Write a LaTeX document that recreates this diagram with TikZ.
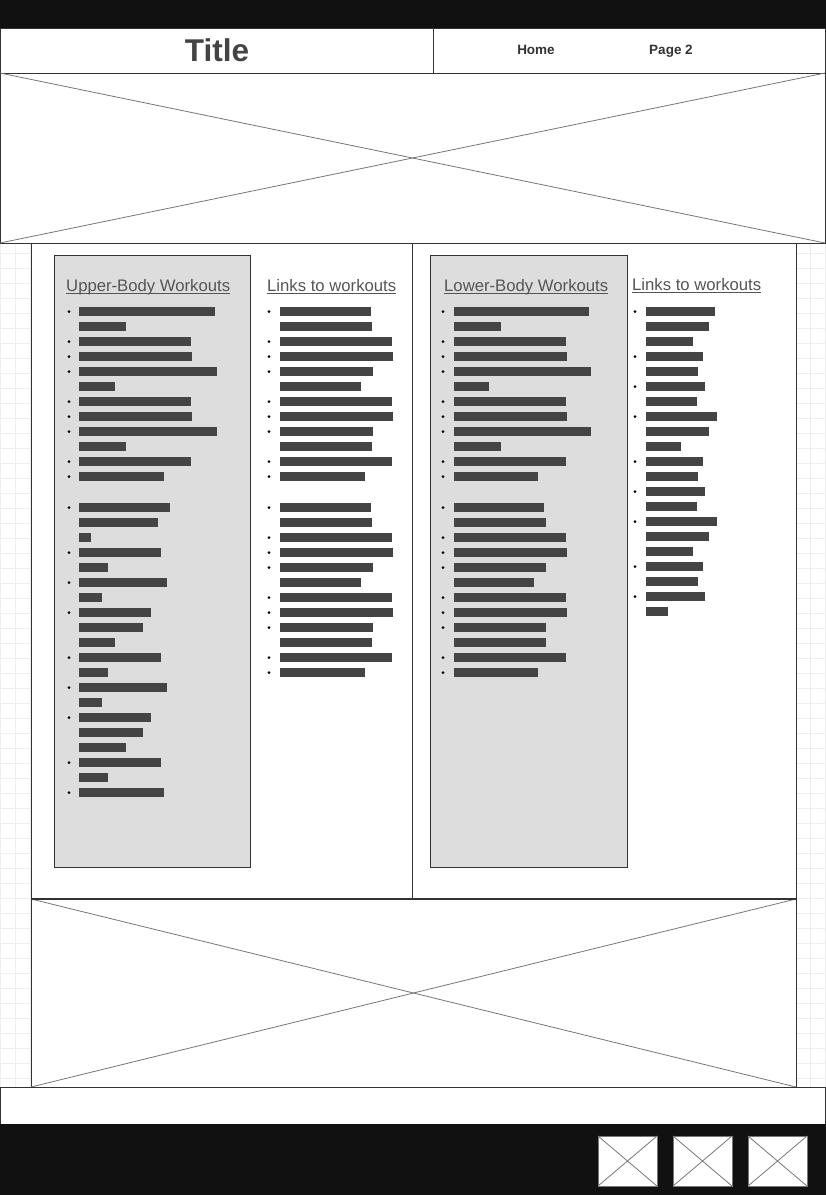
\documentclass[tikz,border=0pt]{standalone}
\usepackage{fontspec}
\setmainfont{Liberation Sans}
\definecolor{ink}{HTML}{111111}
\definecolor{barc}{HTML}{444444}
\definecolor{panel}{HTML}{DDDDDD}
\definecolor{edge}{HTML}{333333}
\definecolor{xline}{HTML}{777777}
\definecolor{gridc}{HTML}{EEEEEE}
\definecolor{headc}{HTML}{555555}
\newcommand\wfList[4]{%
  \foreach \b/\e [count=\i from 0] in {#4}{%
    \pgfmathsetmacro\yy{#3+15*\i}%
    \fill[bar] (#2,\yy-4.5) rectangle (\e,\yy+4.5);
    \ifnum\b=1 \fill[dot] (#1,\yy) circle (1.5);\fi
  }}
\begin{document}
\begin{tikzpicture}[x=1pt,y=-1pt,
  box/.style={draw=edge,fill=white,line width=1pt},
  pnl/.style={draw=edge,fill=panel,line width=1pt},
  xl/.style={draw=xline,line width=0.8pt},
  bar/.style={fill=barc},
  dot/.style={fill=black},
  gl/.style={draw=gridc,line width=0.6pt},
  head/.style={anchor=base west,inner sep=0pt,font=\fontsize{16.7}{18}\selectfont,text=headc},
  uline/.style={draw=headc,line width=0.8pt},
  nav/.style={anchor=base,inner sep=0pt,font=\fontsize{13.5}{15}\selectfont\bfseries,text=edge},
  icon/.style={draw=xline,fill=white,line width=1pt}]
\useasboundingbox (0,0) rectangle (826,1195);
\fill[white] (0,0) rectangle (826,1195);
% background grid
\foreach \gx in {0,15,...,825} \draw[gl] (\gx,243) -- (\gx,1087);
\foreach \gy in {253,268,...,1087} \draw[gl] (0,\gy) -- (826,\gy);
% top bar
\fill[ink] (0,0) rectangle (826,28);
% header
\draw[box] (0,28) rectangle (825,73);
\draw[draw=edge,line width=1pt] (433,28) -- (433,73);
\node[anchor=base,inner sep=0pt,font=\fontsize{31.5}{34}\selectfont\bfseries,text=barc] (title) at (217,61) {Title};
\node[nav] (home) at (536,54) {Home};
\node[nav] (page2) at (671,54) {Page 2};
% hero image
\draw[box] (0,73) rectangle (825,243);
\draw[xl] (0,73) -- (825,243);
\draw[xl] (825,73) -- (0,243);
% main content
\draw[box] (31,243) rectangle (796,899);
\draw[draw=edge,line width=1pt] (412,243) -- (412,899);
\draw[pnl] (54,255) rectangle (250,867);
\draw[pnl] (430,255) rectangle (627,867);
% headings
\node[head] (h1) at (66,291) {Upper-Body Workouts};
\draw[uline] ([yshift=-2pt]h1.base west) -- ([yshift=-2pt]h1.base east);
\node[head] (h2) at (267,291) {Links to workouts};
\draw[uline] ([yshift=-2pt]h2.base west) -- ([yshift=-2pt]h2.base east);
\node[head] (h3) at (444,291.5) {Lower-Body Workouts};
\draw[uline] ([yshift=-2pt]h3.base west) -- ([yshift=-2pt]h3.base east);
\node[head] (h4) at (632,290.5) {Links to workouts};
\draw[uline] ([yshift=-2pt]h4.base west) -- ([yshift=-2pt]h4.base east);
% column 1
\wfList{69}{79}{311.5}{1/215,0/126,1/191,1/192,1/217,0/115,1/191,1/192,1/217,0/126,1/191,1/164}
\wfList{69}{79}{507.5}{1/170,0/158,0/91,1/161,0/108,1/167,0/102,1/151,0/143,0/115,1/161,0/108,1/167,0/102,1/151,0/143,0/126,1/161,0/108,1/164}
% column 2
\wfList{269}{280}{311.5}{1/371,0/372,1/392,1/393,1/373,0/361,1/392,1/393,1/373,0/372,1/392,1/365}
\wfList{269}{280}{507.5}{1/371,0/372,1/392,1/393,1/373,0/361,1/392,1/393,1/373,0/372,1/392,1/365}
% column 3
\wfList{443}{454}{311.5}{1/589,0/501,1/566,1/567,1/591,0/489,1/566,1/567,1/591,0/501,1/566,1/538}
\wfList{443}{454}{507.5}{1/544,0/546,1/566,1/567,1/546,0/534,1/566,1/567,1/546,0/546,1/566,1/538}
% column 4
\wfList{635}{646}{311.5}{1/715,0/709,0/693,1/703,0/698,1/705,0/697,1/717,0/709,0/681,1/703,0/698,1/705,0/697,1/717,0/709,0/693,1/703,0/698,1/705,0/668}
% lower image
\draw[box] (31,899) rectangle (796,1087);
\draw[xl] (31,899) -- (796,1087);
\draw[xl] (796,899) -- (31,1087);
\draw[draw=edge,line width=1.6pt] (31,899) -- (796,899);
% footer
\draw[box] (0,1087) rectangle (825,1124);
\fill[ink] (0,1124) rectangle (826,1195);
\foreach \ix in {598,673,748}{
  \draw[icon] (\ix,1136) rectangle (\ix+59,1186);
  \draw[xl] (\ix,1136) -- (\ix+59,1186);
  \draw[xl] (\ix+59,1136) -- (\ix,1186);
}
\end{tikzpicture}
\end{document}
